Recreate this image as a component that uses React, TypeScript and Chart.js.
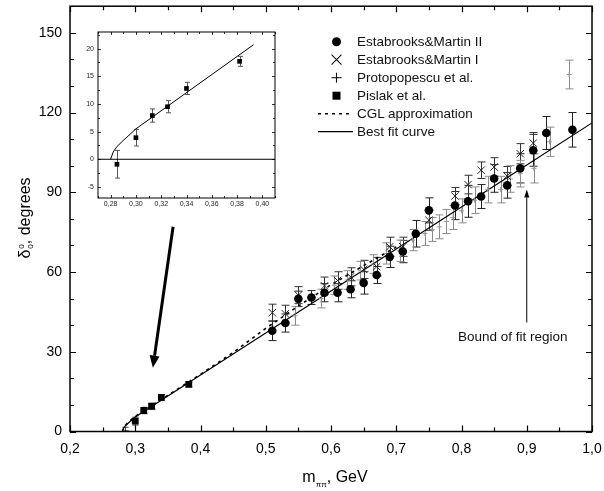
import { useEffect, useRef } from "react"
import { Chart, registerables } from "chart.js"
Chart.register(...registerables)

Chart.defaults.font.family = "'Liberation Sans', Arial, sans-serif"
Chart.defaults.color = "#000"

// Estabrooks & Martin II (filled circles)
const emIIX = [0.51, 0.53, 0.55, 0.57, 0.59, 0.61, 0.63, 0.65, 0.67, 0.69, 0.71, 0.73, 0.75, 0.79, 0.81, 0.83, 0.85, 0.87, 0.89, 0.91, 0.93, 0.97]
const emIIY = [37.9, 40.8, 49.9, 50.4, 52.2, 52.2, 53.5, 55.9, 58.9, 65.7, 67.7, 74.4, 83.2, 85.0, 86.6, 88.4, 95.2, 92.6, 99.0, 105.8, 112.3, 113.5]
const emIIErr = [3.7, 3.4, 2.9, 2.6, 3.4, 3.4, 3.2, 4.2, 3.2, 4.0, 4.2, 5.0, 4.7, 5.3, 6.0, 4.5, 5.2, 4.8, 5.5, 6.0, 6.2, 6.5]

// Estabrooks & Martin I (crosses)
const emIX = [0.51, 0.53, 0.55, 0.59, 0.61, 0.63, 0.65, 0.67, 0.69, 0.71, 0.75, 0.79, 0.81, 0.83, 0.85, 0.87, 0.89, 0.91]
const emIY = [44.7, 44.3, 51.3, 54.8, 56.8, 58.2, 61.0, 62.0, 69.5, 69.5, 79.5, 88.6, 92.9, 98.3, 99.5, 96.1, 104.5, 108.5]
const emIErr = [3.2, 3.2, 3.2, 3.3, 3.3, 3.4, 3.4, 3.5, 3.6, 3.6, 3.8, 3.2, 3.5, 3.1, 3.5, 3.6, 3.8, 4.0]

// Protopopescu et al. (grey plus)
const protoX = [0.545, 0.585, 0.605, 0.625, 0.645, 0.665, 0.685, 0.705, 0.725, 0.744, 0.755, 0.766, 0.777, 0.787, 0.8, 0.82, 0.84, 0.86, 0.875, 0.89, 0.911, 0.935, 0.965]
const protoY = [43.5, 50.0, 55.0, 57.0, 60.5, 63.0, 67.0, 68.0, 72.0, 74.5, 76.0, 77.0, 79.0, 80.5, 83.0, 87.0, 91.0, 91.0, 95.0, 97.0, 99.0, 109.0, 134.3]
const protoErr = [3.5, 3.5, 3.5, 3.5, 3.5, 3.5, 4, 4, 4, 4.5, 4.5, 4.5, 4.5, 4.5, 4.5, 5, 5, 5, 5, 5, 5.5, 5.5, 5.4]

// Pislak et al. (squares)
const pislakX = [0.285, 0.3, 0.313, 0.325, 0.34, 0.382]
const pislakY = [-0.9, 3.9, 7.9, 9.5, 12.8, 17.7]
const pislakErr = [2.5, 1.5, 1.2, 1.1, 1.1, 0.9]

// curves
const fitX = [0.28, 0.282, 0.285, 0.29, 0.3, 0.4, 0.5, 0.6, 0.7, 0.8, 0.9, 1.0]
const fitY = [0, 1.2, 2.2, 3.3, 5.5, 21.3, 37.1, 52.9, 68.7, 84.5, 100.3, 116.1]
const cglX = [0.28, 0.285, 0.29, 0.3, 0.35, 0.4, 0.45, 0.5, 0.55, 0.6, 0.65, 0.7]
const cglY = [0, 2.4, 3.6, 5.7, 13.6, 21.5, 29.7, 38.8, 47.2, 55.2, 62.4, 69.4]
const insetFitX = [0.28, 0.282, 0.285, 0.29, 0.3, 0.393]
const insetFitY = [0, 1.3, 2.3, 3.4, 5.5, 20.7]
const zeroLineX = [0.27, 0.41]
const zeroLineY = [0, 0]

// tick values
const mainXTicks = [0.2, 0.3, 0.4, 0.5, 0.6, 0.7, 0.8, 0.9, 1.0]
const mainYTicks = [0, 30, 60, 90, 120, 150]
const insetXTicks = [0.28, 0.3, 0.32, 0.34, 0.36, 0.38, 0.4]
const insetYTicks = [-5, 0, 5, 10, 15, 20]

// annotations (data coordinates)
const boundArrow = { x0: 0.9, y0: 41, x1: 0.9, y1: 91, width: 1, head: 8, half: 2.5 }
const insetArrow = { x0: 0.358, y0: 77, x1: 0.327, y1: 24, width: 3, head: 12, half: 5 }

const pts = (xs: number[], ys: number[]) => xs.map((x, i) => ({ x, y: ys[i] }))
const comma = (d: number) => (v: any) => Number(v).toFixed(d).replace(".", ",")
const fixedTicks = (vals: number[]) => (s: any) => { s.ticks = vals.map((value) => ({ value })) }

const errorBars = {
  id: "errorBars",
  beforeDatasetsDraw(chart: any) {
    const { ctx, chartArea: a, scales } = chart
    ctx.save()
    ctx.beginPath()
    ctx.rect(a.left, a.top, a.width, a.height)
    ctx.clip()
    chart.data.datasets.forEach((ds: any) => {
      if (!ds.errors) return
      ctx.strokeStyle = ds.errorColor
      ctx.lineWidth = 1
      ds.data.forEach((p: any, j: number) => {
        const e = ds.errors[j]
        const x = Math.round(scales.x.getPixelForValue(p.x)) + 0.5
        const y1 = scales.y.getPixelForValue(p.y - e)
        const y2 = scales.y.getPixelForValue(p.y + e)
        const c = ds.capHalf
        ctx.beginPath()
        ctx.moveTo(x, y1); ctx.lineTo(x, y2)
        ctx.moveTo(x - c, y1); ctx.lineTo(x + c, y1)
        ctx.moveTo(x - c, y2); ctx.lineTo(x + c, y2)
        ctx.stroke()
      })
    })
    ctx.restore()
  },
}

const frame = {
  id: "frame",
  afterDatasetsDraw(chart: any, _args: any, o: any) {
    const { ctx, chartArea: a, scales } = chart
    ctx.save()
    ctx.strokeStyle = "#000"
    ctx.lineWidth = o.lineWidth
    ctx.strokeRect(a.left, a.top, a.width, a.height)
    ctx.lineWidth = o.tickWidth
    const xs = scales.x, ys = scales.y
    const xf = Math.ceil(xs.min / o.xMinor - 1e-9), xl = Math.floor(xs.max / o.xMinor + 1e-9)
    for (let k = xf; k <= xl; k++) {
      const v = k * o.xMinor
      const r = v / o.xMajor
      const len = Math.abs(r - Math.round(r)) < 1e-6 ? o.major : o.minor
      const px = Math.round(xs.getPixelForValue(v)) + 0.5
      ctx.beginPath()
      ctx.moveTo(px, a.bottom); ctx.lineTo(px, a.bottom - len)
      ctx.moveTo(px, a.top); ctx.lineTo(px, a.top + len)
      ctx.stroke()
    }
    const yf = Math.ceil(ys.min / o.yMinor - 1e-9), yl = Math.floor(ys.max / o.yMinor + 1e-9)
    for (let k = yf; k <= yl; k++) {
      const v = k * o.yMinor
      const r = v / o.yMajor
      const len = Math.abs(r - Math.round(r)) < 1e-6 ? o.major : o.minor
      const py = Math.round(ys.getPixelForValue(v)) + 0.5
      ctx.beginPath()
      ctx.moveTo(a.left, py); ctx.lineTo(a.left + len, py)
      ctx.moveTo(a.right, py); ctx.lineTo(a.right - len, py)
      ctx.stroke()
    }
    ctx.restore()
  },
}

const arrows = {
  id: "arrows",
  afterDraw(chart: any, _args: any, o: any) {
    const { ctx, scales } = chart
    ctx.save()
    ;(o.items || []).forEach((ar: any) => {
      const x0 = scales.x.getPixelForValue(ar.x0), y0 = scales.y.getPixelForValue(ar.y0)
      const x1 = scales.x.getPixelForValue(ar.x1), y1 = scales.y.getPixelForValue(ar.y1)
      const ang = Math.atan2(y1 - y0, x1 - x0)
      const bx = x1 - Math.cos(ang) * ar.head, by = y1 - Math.sin(ang) * ar.head
      ctx.strokeStyle = "#000"
      ctx.fillStyle = "#000"
      ctx.lineWidth = ar.width
      ctx.beginPath()
      ctx.moveTo(x0, y0); ctx.lineTo(bx, by)
      ctx.stroke()
      ctx.beginPath()
      ctx.moveTo(x1, y1)
      ctx.lineTo(bx + Math.sin(ang) * ar.half, by - Math.cos(ang) * ar.half)
      ctx.lineTo(bx - Math.sin(ang) * ar.half, by + Math.cos(ang) * ar.half)
      ctx.closePath()
      ctx.fill()
    })
    ctx.restore()
  },
}

function MainChart() {
  const ref = useRef<HTMLCanvasElement>(null)
  useEffect(() => {
    if (!ref.current) return
    const chart = new Chart(ref.current, {
      type: "scatter",
      data: {
        datasets: [
          { label: "Estabrooks&Martin II", data: pts(emIIX, emIIY), pointStyle: "circle", pointRadius: 4.3, backgroundColor: "#000", borderColor: "#000", borderWidth: 0, errors: emIIErr, errorColor: "#222", capHalf: 4 } as any,
          { label: "Pislak et al.", data: pts(pislakX, pislakY), pointStyle: "rect", pointRadius: 4.8, backgroundColor: "#000", borderColor: "#000", borderWidth: 0, errors: pislakErr, errorColor: "#444", capHalf: 3 } as any,
          { label: "Estabrooks&Martin I", data: pts(emIX, emIY), pointStyle: "crossRot", pointRadius: 5.2, borderColor: "#222", borderWidth: 1, errors: emIErr, errorColor: "#333", capHalf: 4 } as any,
          { label: "Protopopescu et al.", data: pts(protoX, protoY), pointStyle: "cross", pointRadius: 2.5, borderColor: "#999", borderWidth: 1, errors: protoErr, errorColor: "#8a8a8a", capHalf: 4 } as any,
          { label: "CGL approximation", data: pts(cglX, cglY), showLine: true, borderColor: "#000", borderWidth: 1.6, borderDash: [3, 4], pointRadius: 0 },
          { label: "Best fit curve", data: pts(fitX, fitY), showLine: true, borderColor: "#000", borderWidth: 1.2, pointRadius: 0 },
        ],
      },
      options: {
        animation: false,
        responsive: false,
        events: [],
        layout: { padding: { left: 0, right: 12, top: 4, bottom: 0 } },
        plugins: {
          legend: { display: false },
          tooltip: { enabled: false },
          frame: { lineWidth: 1.5, tickWidth: 1.2, xMinor: 0.05, xMajor: 0.1, yMinor: 10, yMajor: 30, major: 6, minor: 4 },
          arrows: { items: [boundArrow, insetArrow] },
        } as any,
        scales: {
          x: {
            type: "linear", min: 0.2, max: 1.0,
            grid: { display: false, drawTicks: false }, border: { display: false },
            ticks: { padding: 9, font: { size: 14 }, color: "#000", maxRotation: 0, autoSkip: false, callback: comma(1) },
            afterBuildTicks: fixedTicks(mainXTicks),
            afterFit: (s: any) => { s.height = 59.5; s.paddingLeft = 0; s.paddingRight = 0 },
          },
          y: {
            type: "linear", min: 0, max: 160,
            grid: { display: false, drawTicks: false }, border: { display: false },
            ticks: { padding: 8, font: { size: 14 }, color: "#000" },
            afterBuildTicks: fixedTicks(mainYTicks),
            afterFit: (s: any) => { s.width = 70; s.paddingTop = 0; s.paddingBottom = 0 },
          },
        },
      },
      plugins: [errorBars, frame, arrows],
    })
    return () => chart.destroy()
  }, [])
  return <canvas ref={ref} width={604} height={491} style={{ position: "absolute", left: 0, top: 0 }} />
}

function InsetChart() {
  const ref = useRef<HTMLCanvasElement>(null)
  useEffect(() => {
    if (!ref.current) return
    const chart = new Chart(ref.current, {
      type: "scatter",
      data: {
        datasets: [
          { label: "Pislak et al.", data: pts(pislakX, pislakY), pointStyle: "rect", pointRadius: 3.3, backgroundColor: "#000", borderColor: "#000", borderWidth: 0, errors: pislakErr, errorColor: "#555", capHalf: 2.5 } as any,
          { label: "fit", data: pts(insetFitX, insetFitY), showLine: true, borderColor: "#000", borderWidth: 1, pointRadius: 0 },
          { label: "zero", data: pts(zeroLineX, zeroLineY), showLine: true, borderColor: "#000", borderWidth: 1, pointRadius: 0 },
        ],
      },
      options: {
        animation: false,
        responsive: false,
        events: [],
        layout: { padding: { left: 0, right: 5, top: 6, bottom: 0 } },
        plugins: {
          legend: { display: false },
          tooltip: { enabled: false },
          frame: { lineWidth: 1, tickWidth: 0.8, xMinor: 0.01, xMajor: 0.02, yMinor: 2.5, yMajor: 5, major: 3, minor: 2 },
        } as any,
        scales: {
          x: {
            type: "linear", min: 0.27, max: 0.41,
            grid: { display: false, drawTicks: false }, border: { display: false },
            ticks: { padding: 2, font: { size: 7 }, color: "#222", maxRotation: 0, autoSkip: false, callback: comma(2) },
            afterBuildTicks: fixedTicks(insetXTicks),
            afterFit: (s: any) => { s.height = 14; s.paddingLeft = 0; s.paddingRight = 0 },
          },
          y: {
            type: "linear", min: -7, max: 23,
            grid: { display: false, drawTicks: false }, border: { display: false },
            ticks: { padding: 4, font: { size: 7 }, color: "#222" },
            afterBuildTicks: fixedTicks(insetYTicks),
            afterFit: (s: any) => { s.width = 26; s.paddingTop = 0; s.paddingBottom = 0 },
          },
        },
      },
      plugins: [errorBars, frame],
    })
    return () => chart.destroy()
  }, [])
  return <canvas ref={ref} width={208} height={186} style={{ position: "absolute", left: 72, top: 26 }} />
}

const font = "'Liberation Sans', Arial, sans-serif"

function Legend() {
  const rows = ["Estabrooks&Martin II", "Estabrooks&Martin I", "Protopopescu et al.", "Pislak et al.", "CGL approximation", "Best fit curve"]
  const top0 = 41.7
  const step = 18
  return (
    <>
      <svg width={604} height={491} style={{ position: "absolute", left: 0, top: 0 }}>
        <circle cx={336.5} cy={top0} r={4.5} fill="#000" />
        <g stroke="#111" strokeWidth={1.1}>
          <line x1={331.5} y1={top0 + step - 5} x2={341.5} y2={top0 + step + 5} />
          <line x1={331.5} y1={top0 + step + 5} x2={341.5} y2={top0 + step - 5} />
          <line x1={331.5} y1={top0 + 2 * step} x2={341.5} y2={top0 + 2 * step} />
          <line x1={336.5} y1={top0 + 2 * step - 5} x2={336.5} y2={top0 + 2 * step + 5} />
        </g>
        <rect x={332.5} y={top0 + 3 * step - 4} width={8} height={8} fill="#000" />
        <line x1={318} y1={top0 + 4 * step} x2={353} y2={top0 + 4 * step} stroke="#000" strokeWidth={1.5} strokeDasharray="3 4" />
        <line x1={318} y1={top0 + 5 * step} x2={353} y2={top0 + 5 * step} stroke="#000" strokeWidth={1.2} />
      </svg>
      {rows.map((r, i) => (
        <div key={r} style={{ position: "absolute", left: 357, top: top0 + i * step - 9, fontFamily: font, fontSize: 13.5, lineHeight: "18px", color: "#111", whiteSpace: "nowrap" }}>{r}</div>
      ))}
    </>
  )
}

function Titles() {
  return (
    <>
      <div style={{ position: "absolute", left: 335, top: 478, transform: "translate(-50%,-50%)", fontFamily: font, fontSize: 16, color: "#000", whiteSpace: "nowrap" }}>
        m<span style={{ fontSize: 8, verticalAlign: "-5px" }}>ππ</span>, GeV
      </div>
      <div style={{ position: "absolute", left: 25, top: 218, transform: "translate(-50%,-50%) rotate(-90deg)", fontFamily: font, fontSize: 16, color: "#000", whiteSpace: "nowrap" }}>
        δ
        <span style={{ display: "inline-flex", flexDirection: "column", fontSize: 8, lineHeight: "9px", verticalAlign: "middle", marginLeft: 1 }}>
          <span>0</span>
          <span>0</span>
        </span>
        , degrees
      </div>
      <div style={{ position: "absolute", left: 458, top: 336, transform: "translateY(-50%)", fontFamily: font, fontSize: 13.5, color: "#111", whiteSpace: "nowrap" }}>
        Bound of fit region
      </div>
    </>
  )
}

export default function App() {
  return (
    <div style={{ position: "absolute", left: 0, top: 0, width: 604, height: 491, background: "#fff", overflow: "hidden" }}>
      <MainChart />
      <InsetChart />
      <Legend />
      <Titles />
    </div>
  )
}
